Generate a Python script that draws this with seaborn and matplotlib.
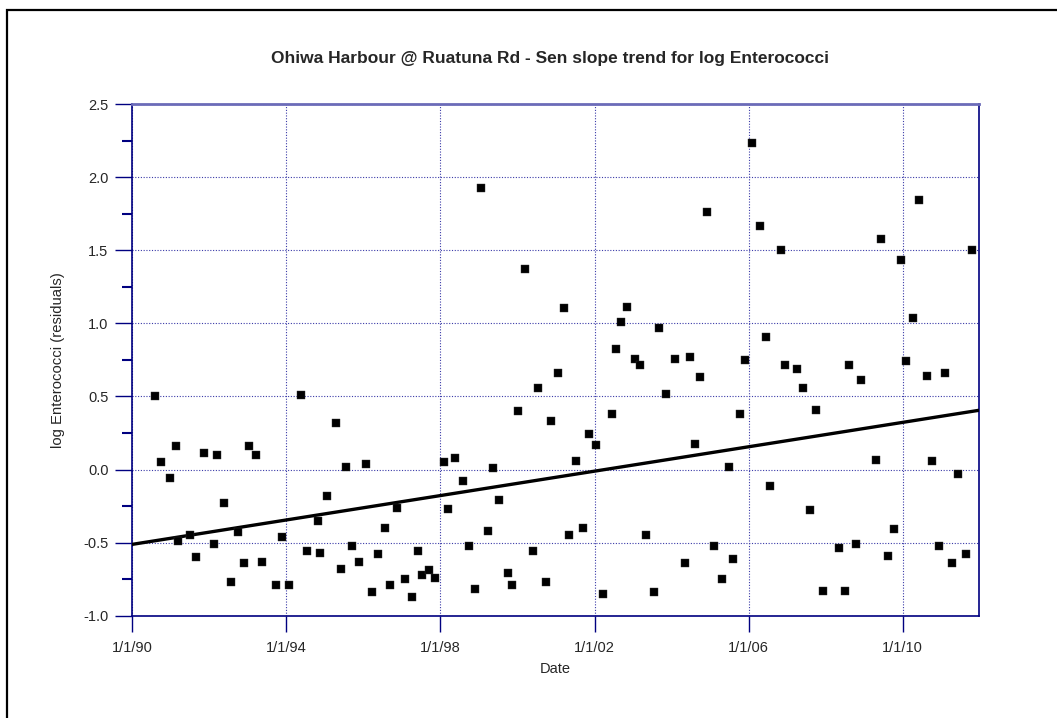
import numpy as np
import pandas as pd
import matplotlib
matplotlib.use("Agg")
import matplotlib.pyplot as plt
import matplotlib.dates as mdates
from matplotlib.ticker import FixedLocator, FuncFormatter, MultipleLocator
from matplotlib.patches import Rectangle
import seaborn as sns

# ---- data (decimal year, residual) ----
sample_years = [
    1990.60, 1990.74, 1990.97, 1991.13, 1991.19, 1991.50, 1991.65, 1991.85,
    1992.12, 1992.21, 1992.39, 1992.56, 1992.74, 1992.89, 1993.03, 1993.20,
    1993.36, 1993.74, 1993.88, 1994.06, 1994.38, 1994.53, 1994.82, 1994.88,
    1995.05, 1995.30, 1995.41, 1995.56, 1995.70, 1995.89, 1996.06, 1996.23,
    1996.38, 1996.56, 1996.70, 1996.88, 1997.09, 1997.26, 1997.41, 1997.53,
    1997.70, 1997.85, 1998.08, 1998.20, 1998.38, 1998.58, 1998.73, 1998.90,
    1999.05, 1999.23, 1999.37, 1999.52, 1999.76, 1999.87, 2000.02, 2000.20,
    2000.40, 2000.52, 2000.73, 2000.87, 2001.04, 2001.20, 2001.35, 2001.52,
    2001.69, 2001.85, 2002.05, 2002.22, 2002.46, 2002.55, 2002.70, 2002.84,
    2003.05, 2003.19, 2003.34, 2003.54, 2003.67, 2003.86, 2004.10, 2004.34,
    2004.49, 2004.60, 2004.75, 2004.93, 2005.10, 2005.31, 2005.48, 2005.60,
    2005.78, 2005.92, 2006.10, 2006.30, 2006.45, 2006.56, 2006.83, 2006.95,
    2007.25, 2007.42, 2007.60, 2007.74, 2007.92, 2008.34, 2008.51, 2008.60,
    2008.78, 2008.92, 2009.31, 2009.44, 2009.63, 2009.77, 2009.95, 2010.09,
    2010.27, 2010.42, 2010.62, 2010.77, 2010.95, 2011.09, 2011.27, 2011.44,
    2011.65, 2011.80,
]
residuals = [
    0.50, 0.05, -0.06, 0.16, -0.49, -0.45, -0.60, 0.11,
    -0.51, 0.10, -0.23, -0.77, -0.43, -0.64, 0.16, 0.10,
    -0.63, -0.79, -0.46, -0.79, 0.51, -0.56, -0.35, -0.57,
    -0.18, 0.32, -0.68, 0.02, -0.52, -0.63, 0.035, -0.84,
    -0.58, -0.40, -0.79, -0.26, -0.75, -0.87, -0.56, -0.72,
    -0.69, -0.74, 0.05, -0.27, 0.08, -0.08, -0.52, -0.82,
    1.926, -0.42, 0.01, -0.21, -0.71, -0.79, 0.40, 1.373,
    -0.56, 0.56, -0.77, 0.33, 0.66, 1.105, -0.45, 0.06,
    -0.40, 0.24, 0.17, -0.85, 0.38, 0.826, 1.01, 1.11,
    0.756, 0.717, -0.45, -0.84, 0.97, 0.516, 0.756, -0.64,
    0.77, 0.174, 0.63, 1.76, -0.52, -0.75, 0.02, -0.61,
    0.38, 0.75, 2.235, 1.668, 0.904, -0.11, 1.499, 0.717,
    0.69, 0.555, -0.28, 0.41, -0.83, -0.54, -0.83, 0.717,
    -0.51, 0.61, 0.067, 1.577, -0.59, -0.405, 1.435, 0.74,
    1.034, 1.84, 0.64, 0.06, -0.52, 0.66, -0.64, -0.03,
    -0.58, 1.499,
]
trend_dates = ["1990-01-01", "2011-12-26"]
trend_values = [-0.512, 0.405]
x_tick_dates = ["1990-01-01", "1994-01-01", "1998-01-01", "2002-01-01", "2006-01-01", "2010-01-01"]
y_ticks = [-1.0, -0.5, 0.0, 0.5, 1.0, 1.5, 2.0, 2.5]

title = "Ohiwa Harbour @ Ruatuna Rd - Sen slope trend for log Enterococci"
xlabel = "Date"
ylabel = "log Enterococci (residuals)"


def to_date(y):
    return pd.Timestamp("1990-01-01") + pd.to_timedelta((y - 1990.0) * 365.25, unit="D")


df = pd.DataFrame({"date": [to_date(y) for y in sample_years], "value": residuals})
trend = pd.DataFrame({"date": pd.to_datetime(trend_dates), "value": trend_values})

sns.set_style("white")
plt.rcParams["font.family"] = ["Liberation Sans", "DejaVu Sans"]

W, H = 1057, 718
fig = plt.figure(figsize=(W / 100, H / 100), dpi=100)
ax = fig.add_axes([132.3 / W, 1 - 615.7 / H, (979 - 132.3) / W, (615.7 - 104) / H])

navy = "#000080"
grid_c = "#3a3aa8"

ax.grid(True, color=grid_c, linestyle=(0, (1, 1.5)), linewidth=0.8, zorder=0)
ax.set_axisbelow(True)

sns.lineplot(data=trend, x="date", y="value", color="black", linewidth=2.4, ax=ax, zorder=3)
sns.scatterplot(data=df, x="date", y="value", marker="s", s=40, color="black",
                edgecolor="#333333", linewidth=0.3, ax=ax, zorder=4)

ax.set_xlim(pd.Timestamp("1990-01-01"), pd.Timestamp("2011-12-26"))
ax.set_ylim(-1.0, 2.5)

ax.xaxis.set_major_locator(FixedLocator(mdates.date2num(pd.to_datetime(x_tick_dates))))


def fmt_date(x, pos):
    d = mdates.num2date(x)
    return f"{d.month}/{d.day}/{d.year % 100:02d}"


ax.xaxis.set_major_formatter(FuncFormatter(fmt_date))
ax.yaxis.set_major_locator(FixedLocator(y_ticks))
ax.yaxis.set_minor_locator(MultipleLocator(0.25))
ax.yaxis.set_major_formatter(FuncFormatter(lambda v, p: f"{v:.1f}"))

ax.tick_params(axis="y", which="major", direction="out", length=12.2, width=1.0,
               color=navy, labelsize=10.5, pad=5, left=True)
ax.tick_params(axis="y", which="minor", direction="out", length=7.2, width=1.5,
               color=navy, left=True)
ax.tick_params(axis="x", which="major", direction="out", length=11.5, width=1.0,
               color=navy, labelsize=10.5, pad=7, bottom=True)

for side in ["left", "bottom", "right"]:
    ax.spines[side].set_color(navy)
    ax.spines[side].set_linewidth(1.2)
ax.spines["top"].set_color("#6b6bb8")
ax.spines["top"].set_linewidth(2.0)

ax.set_xlabel(xlabel, fontsize=10.5, labelpad=5)
ax.set_ylabel(ylabel, fontsize=10.7, labelpad=13)

fig.text(550 / W, 1 - 59 / H, title, ha="center", va="center", fontsize=12.5, fontweight="bold")

fig.add_artist(Rectangle((7 / W, -0.05), 1.2, (1 - 10 / H) + 0.05, transform=fig.transFigure,
                         fill=False, edgecolor="black", linewidth=1.6, clip_on=False))

fig.savefig("out.png", dpi=100)
